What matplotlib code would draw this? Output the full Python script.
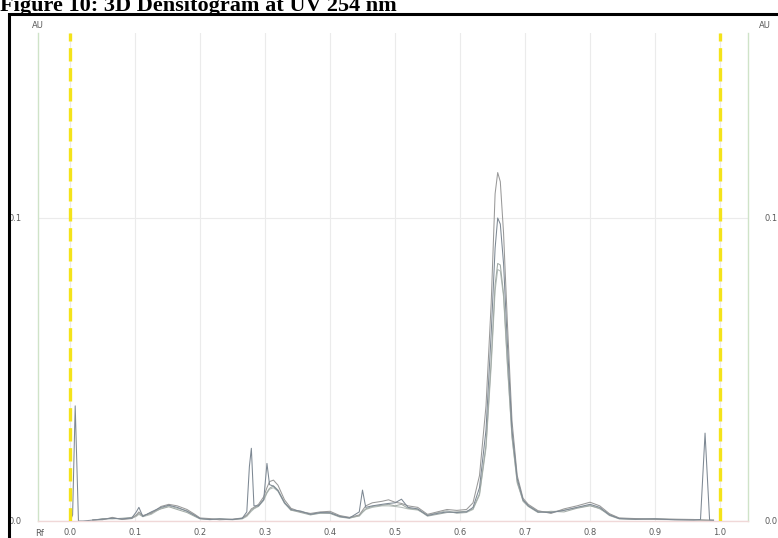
import matplotlib.pyplot as plt
import numpy as np
from matplotlib.patches import Rectangle

# Rf positions shared by all tracks
rf = [0.000, 0.004, 0.008, 0.013, 0.020, 0.035, 0.05, 0.065, 0.08, 0.095,
      0.102, 0.106, 0.112, 0.125, 0.14, 0.152, 0.165, 0.18, 0.192, 0.2,
      0.215, 0.23, 0.25, 0.265, 0.272, 0.276, 0.279, 0.283, 0.29, 0.298,
      0.303, 0.307, 0.313, 0.32, 0.33, 0.34, 0.355, 0.37, 0.385, 0.4,
      0.415, 0.43, 0.445, 0.45, 0.455, 0.465, 0.48, 0.49, 0.5, 0.51,
      0.52, 0.535, 0.55, 0.565, 0.58, 0.595, 0.61, 0.62, 0.63, 0.64,
      0.648, 0.654, 0.658, 0.662, 0.667, 0.673, 0.68, 0.688, 0.697, 0.705,
      0.72, 0.74, 0.76, 0.78, 0.8, 0.815, 0.83, 0.845, 0.87, 0.9,
      0.93, 0.96, 0.97, 0.977, 0.984, 0.99]

nan = np.nan
track_a = [0.0, 0.002, 0.038, 0.0, 0.0, 0.0003, 0.0006, 0.0009, 0.0007, 0.0010,
           0.0030, 0.0045, 0.0015, 0.0030, 0.0045, 0.0052, 0.0045, 0.0032, 0.0018, 0.0008,
           0.0005, 0.0007, 0.0005, 0.0009, 0.0030, 0.0180, 0.0240, 0.0050, 0.0050, 0.0070,
           0.0190, 0.0120, 0.0115, 0.0100, 0.0060, 0.0038, 0.0032, 0.0022, 0.0028, 0.0027,
           0.0015, 0.0010, 0.0030, 0.0102, 0.0045, 0.0050, 0.0055, 0.0058, 0.0060, 0.0072,
           0.0045, 0.0040, 0.0018, 0.0025, 0.0030, 0.0028, 0.0030, 0.0045, 0.0110, 0.0300,
           0.0620, 0.0900, 0.1000, 0.0980, 0.0850, 0.0580, 0.0300, 0.0140, 0.0070, 0.0050,
           0.0030, 0.0028, 0.0035, 0.0045, 0.0055, 0.0045, 0.0020, 0.0008, 0.0006, 0.0007,
           0.0004, 0.0003, 0.0005, 0.0290, 0.0003, 0.0002]
track_b = [nan, nan, nan, nan, nan, 0.0004, 0.0004, 0.0012, 0.0005, 0.0008,
           0.0020, 0.0030, 0.0018, 0.0025, 0.0048, 0.0055, 0.0050, 0.0038, 0.0022, 0.0010,
           0.0008, 0.0004, 0.0006, 0.0010, 0.0020, 0.0030, 0.0040, 0.0045, 0.0055, 0.0080,
           0.0110, 0.0130, 0.0135, 0.0118, 0.0070, 0.0042, 0.0030, 0.0025, 0.0030, 0.0032,
           0.0018, 0.0012, 0.0020, 0.0035, 0.0050, 0.0060, 0.0065, 0.0070, 0.0062, 0.0058,
           0.0050, 0.0045, 0.0022, 0.0030, 0.0038, 0.0035, 0.0038, 0.0060, 0.0150, 0.0380,
           0.0720, 0.1080, 0.1150, 0.1120, 0.0950, 0.0650, 0.0330, 0.0150, 0.0075, 0.0055,
           0.0034, 0.0025, 0.0040, 0.0050, 0.0062, 0.0050, 0.0024, 0.0010, 0.0008, 0.0006,
           0.0006, 0.0005, 0.0003, 0.0003, 0.0002, 0.0003]
track_c = [nan, nan, nan, nan, nan, 0.0002, 0.0008, 0.0007, 0.0009, 0.0012,
           0.0018, 0.0025, 0.0016, 0.0028, 0.0040, 0.0047, 0.0038, 0.0028, 0.0015, 0.0007,
           0.0006, 0.0006, 0.0004, 0.0008, 0.0018, 0.0028, 0.0036, 0.0042, 0.0050, 0.0072,
           0.0095, 0.0108, 0.0116, 0.0102, 0.0062, 0.0036, 0.0028, 0.0020, 0.0026, 0.0025,
           0.0013, 0.0009, 0.0018, 0.0030, 0.0040, 0.0048, 0.0052, 0.0055, 0.0050, 0.0055,
           0.0042, 0.0038, 0.0016, 0.0022, 0.0028, 0.0030, 0.0032, 0.0040, 0.0090, 0.0250,
           0.0530, 0.0780, 0.0850, 0.0845, 0.0750, 0.0520, 0.0280, 0.0130, 0.0065, 0.0048,
           0.0028, 0.0032, 0.0030, 0.0042, 0.0050, 0.0042, 0.0018, 0.0007, 0.0005, 0.0008,
           0.0005, 0.0004, 0.0004, 0.0002, 0.0003, 0.0002]
track_d = [nan, nan, nan, nan, nan, 0.0003, 0.0005, 0.0010, 0.0006, 0.0009,
           0.0015, 0.0022, 0.0014, 0.0022, 0.0042, 0.0050, 0.0042, 0.0034, 0.0020, 0.0009,
           0.0004, 0.0008, 0.0005, 0.0007, 0.0015, 0.0025, 0.0032, 0.0040, 0.0048, 0.0068,
           0.0092, 0.0105, 0.0110, 0.0098, 0.0058, 0.0035, 0.0033, 0.0023, 0.0025, 0.0028,
           0.0016, 0.0011, 0.0016, 0.0028, 0.0038, 0.0045, 0.0050, 0.0050, 0.0048, 0.0045,
           0.0040, 0.0036, 0.0020, 0.0027, 0.0034, 0.0025, 0.0028, 0.0038, 0.0085, 0.0240,
           0.0510, 0.0760, 0.0830, 0.0825, 0.0740, 0.0510, 0.0275, 0.0125, 0.0068, 0.0052,
           0.0032, 0.0030, 0.0036, 0.0044, 0.0052, 0.0040, 0.0022, 0.0009, 0.0007, 0.0005,
           0.0004, 0.0003, 0.0003, 0.0003, 0.0002, 0.0002]

tracks = [track_d, track_c, track_b, track_a]
track_colors = ['#b4bdb9', '#a2aba6', '#999999', '#7d8893']

x_ticks = [0.0, 0.1, 0.2, 0.3, 0.4, 0.5, 0.6, 0.7, 0.8, 0.9, 1.0]
y_ticks = [0.0, 0.1]
front_rf, solvent_rf = 0.0, 1.0

fig = plt.figure(figsize=(7.78, 5.38), dpi=100)

# page frame and caption
fig.patches.append(Rectangle((9 / 778, -0.05), 1.2, 1 - 14 / 538 + 0.05,
                             transform=fig.transFigure, fill=False,
                             edgecolor='black', linewidth=2.2))
fig.text(0.0, 1 - 11 / 538, "Figure 10: 3D Densitogram at UV 254 nm",
         family='Liberation Serif', weight='bold', fontsize=16,
         ha='left', va='baseline')

ax = fig.add_axes([38 / 778, 1 - 521 / 538, 710 / 778, 488 / 538])
ax.set_xlim((38 - 70) / 650, (748 - 70) / 650)
ax.set_ylim(0, 488 / 3030)

for t, c in zip(tracks, track_colors):
    ax.plot(rf, t, color=c, linewidth=0.75)

for r in (front_rf, solvent_rf):
    ax.axvline(r, color='#f4e31a', linewidth=2.4, linestyle=(0, (4, 2)), zorder=5)

ax.set_xticks(x_ticks)
ax.set_yticks(y_ticks)
ax.grid(True, color='#ebebeb', linewidth=0.8)
ax.set_axisbelow(True)
ax.tick_params(length=0, labelsize=6, labelcolor='#5a5a5a', pad=5)
ax.tick_params(axis='y', pad=12, labelright=True, right=False)
ax.set_xticklabels(["{:.1f}".format(v) for v in x_ticks])
ax.set_yticklabels(["{:.1f}".format(v) for v in y_ticks])

ax.spines['top'].set_visible(False)
ax.spines['left'].set_color('#cfe3c8')
ax.spines['right'].set_color('#cfe3c8')
ax.spines['bottom'].set_color('#f0d8d8')
for s in ('left', 'right', 'bottom'):
    ax.spines[s].set_linewidth(1.0)

fig.text(38 / 778, 1 - 25 / 538, "AU", fontsize=6, color='#5a5a5a', ha='center', va='center')
fig.text(765 / 778, 1 - 25 / 538, "AU", fontsize=6, color='#5a5a5a', ha='center', va='center')
fig.text(40 / 778, 1 - 533 / 538, "Rf", fontsize=6, color='#5a5a5a', ha='center', va='center')

fig.savefig("out.png", dpi=100)
